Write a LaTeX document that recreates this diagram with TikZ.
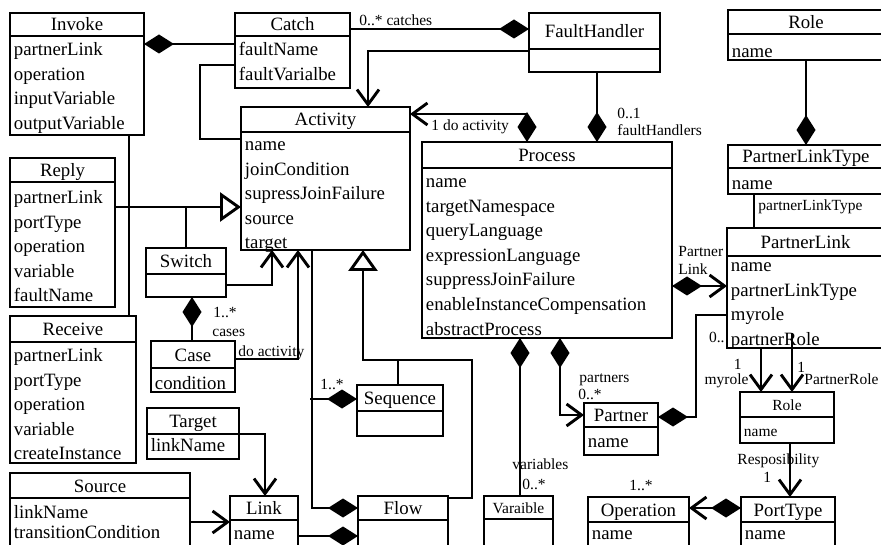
\documentclass[tikz,border=0pt]{standalone}
\usepackage{fontspec}
\setmainfont{Liberation Serif}
\usetikzlibrary{arrows.meta, positioning}

\tikzset{
  comptip/.tip={Diamond[length=30pt,width=19pt]},
  navtip/.tip={Straight Barb[length=15pt,width=22pt]},
  gentip/.tip={Triangle[length=21pt,width=29pt,fill=white]},
  box/.style={draw, line width=2.9pt, outer sep=0pt, inner sep=0pt},
  head/.style={box, anchor=north west, font=\fontsize{18.8}{22}\selectfont, text height=13pt, text depth=0pt},
  smallhead/.style={head, font=\fontsize{15.5}{18}\selectfont, text height=11pt},
  attr/.style={anchor=north west, text width=220pt, align=left, text height=13pt,
    inner xsep=2.5pt, inner ysep=5pt, font=\fontsize{18.8}{24.6}\selectfont},
  smallattr/.style={attr, text height=11pt, font=\fontsize{15.5}{18}\selectfont},
  lbl/.style={anchor=base west, inner sep=0pt, font=\fontsize{15.5}{17}\selectfont},
  comp/.style={arrows={comptip-}},
  nav/.style={arrows={-navtip}},
  compnav/.style={arrows={comptip-navtip}},
  gen/.style={arrows={-gentip}},
}

\begin{document}
\begin{tikzpicture}[x=1pt, y=-1pt, line width=2.9pt]
\useasboundingbox (0,0) rectangle (881,545);
\clip (0,0) rectangle (881,545);

% left column
\node[head, minimum width=134pt, minimum height=23pt] (invoke) at (10,13) {Invoke};
\node[box, minimum width=134pt, minimum height=99pt, below=0pt of invoke] (invoke-b) {};
\node[attr] (invoke-a) at (invoke-b.north west) {partnerLink\\operation\\inputVariable\\outputVariable};

\node[head, minimum width=105pt, minimum height=24pt] (reply) at (10,158) {Reply};
\node[box, minimum width=105pt, minimum height=125pt, below=0pt of reply] (reply-b) {};
\node[attr, yshift=-2pt] (reply-a) at (reply-b.north west) {partnerLink\\portType\\operation\\variable\\faultName};

\node[head, minimum width=126pt, minimum height=26pt] (receive) at (10,316) {Receive};
\node[box, minimum width=126pt, minimum height=121pt, below=0pt of receive] (receive-b) {};
\node[attr] (receive-a) at (receive-b.north west) {partnerLink\\portType\\operation\\variable\\createInstance};

\node[head, minimum width=180pt, minimum height=25pt] (source) at (10,473) {Source};
\node[box, minimum width=180pt, minimum height=80pt, below=0pt of source] (source-b) {};
\node[attr, yshift=-1pt, font=\fontsize{18.8}{20.5}\selectfont] (source-a) at (source-b.north west) {linkName\\transitionCondition};

% activities
\node[head, minimum width=115pt, minimum height=23pt] (catch) at (235,13) {Catch};
\node[box, minimum width=115pt, minimum height=52pt, below=0pt of catch] (catch-b) {};
\node[attr] (catch-a) at (catch-b.north west) {faultName\\faultVarialbe};

\node[head, minimum width=131pt, minimum height=36pt] (faulthandler) at (529,13) {FaultHandler};
\node[box, minimum width=131pt, minimum height=23pt, below=0pt of faulthandler] (faulthandler-b) {};

\node[head, minimum width=169pt, minimum height=25pt] (activity) at (241,107) {Activity};
\node[box, minimum width=169pt, minimum height=118pt, below=0pt of activity] (activity-b) {};
\node[attr, yshift=1pt] (activity-a) at (activity-b.north west) {name\\joinCondition\\supressJoinFailure\\source\\target};

\node[head, minimum width=80pt, minimum height=26pt] (switch) at (146,248) {Switch};
\node[box, minimum width=80pt, minimum height=23pt, below=0pt of switch] (switch-b) {};

\node[head, minimum width=84pt, minimum height=27pt] (case) at (151,341) {Case};
\node[box, minimum width=84pt, minimum height=24pt, below=0pt of case] (case-b) {};
\node[attr, yshift=-2pt] (case-a) at (case-b.north west) {condition};

\node[head, minimum width=92pt, minimum height=26pt] (target) at (147,408) {Target};
\node[box, minimum width=92pt, minimum height=25pt, below=0pt of target] (target-b) {};
\node[attr, yshift=2pt] (target-a) at (target-b.north west) {linkName};

\node[head, minimum width=86pt, minimum height=26pt] (sequence) at (357,385) {Sequence};
\node[box, minimum width=86pt, minimum height=25pt, below=0pt of sequence] (sequence-b) {};

\node[head, minimum width=68pt, minimum height=24pt] (link) at (230,496) {Link};
\node[box, minimum width=68pt, minimum height=45pt, below=0pt of link] (link-b) {};
\node[attr] (link-a) at (link-b.north west) {name};

\node[head, minimum width=90pt, minimum height=24pt] (flow) at (358,496) {Flow};
\node[box, minimum width=90pt, minimum height=45pt, below=0pt of flow] (flow-b) {};

% process side
\node[head, minimum width=250pt, minimum height=26pt] (process) at (422,142) {Process};
\node[box, minimum width=250pt, minimum height=170pt, below=0pt of process] (process-b) {};
\node[attr] (process-a) at (process-b.north west) {name\\targetNamespace\\queryLanguage\\expressionLanguage\\suppressJoinFailure\\enableInstanceCompensation\\abstractProcess};

\node[smallhead, minimum width=69pt, minimum height=23pt] (varaible) at (484,496) {Varaible};
\node[box, minimum width=69pt, minimum height=45pt, below=0pt of varaible] (varaible-b) {};

\node[head, minimum width=74pt, minimum height=24pt] (partner) at (584,403) {Partner};
\node[box, minimum width=74pt, minimum height=28pt, below=0pt of partner] (partner-b) {};
\node[attr, yshift=-1pt] (partner-a) at (partner-b.north west) {name};

\node[head, minimum width=101pt, minimum height=25pt] (operation) at (588,497) {Operation};
\node[box, minimum width=101pt, minimum height=45pt, below=0pt of operation] (operation-b) {};
\node[attr, yshift=2pt] (operation-a) at (operation-b.north west) {name};

\node[head, minimum width=94pt, minimum height=25pt] (porttype) at (741,497) {PortType};
\node[box, minimum width=94pt, minimum height=45pt, below=0pt of porttype] (porttype-b) {};
\node[attr, yshift=2pt] (porttype-a) at (porttype-b.north west) {name};

\node[smallhead, minimum width=94pt, minimum height=25pt] (rolep) at (740,392) {Role};
\node[box, minimum width=94pt, minimum height=26pt, below=0pt of rolep] (rolep-b) {};
\node[smallattr, yshift=-2pt] (rolep-a) at (rolep-b.north west) {name};

\node[head, minimum width=156pt, minimum height=24pt] (role) at (728,10) {Role};
\node[box, minimum width=156pt, minimum height=26pt, below=0pt of role] (role-b) {};
\node[attr, yshift=-4pt] (role-a) at (role-b.north west) {name};

\node[head, minimum width=156pt, minimum height=23pt] (plt) at (728,145) {PartnerLinkType};
\node[box, minimum width=156pt, minimum height=26pt, below=0pt of plt] (plt-b) {};
\node[attr, yshift=-2pt] (plt-a) at (plt-b.north west) {name};

\node[head, minimum width=157pt, minimum height=28pt] (plink) at (727,228) {PartnerLink};
\node[box, minimum width=157pt, minimum height=92pt, below=0pt of plink] (plink-b) {};
\node[attr, yshift=4pt] (plink-a) at (plink-b.north west) {name\\partnerLinkType\\myrole\\partnerRole};

% generalisations
\draw[gen] ([yshift=-25pt]reply-b.north east) -- ([yshift=-25pt]reply-b.north east -| activity-b.west);
\draw ([xshift=119pt]invoke-b.south west) -- ([xshift=119pt]invoke-b.south west |- receive.north);
\draw ([xshift=40pt]switch.north west) -- ++(0,-41);
\draw[gen] ([yshift=-2pt]flow.north east) -| ++(24,-138) -| ([xshift=122pt]activity-b.south west);
\draw ([xshift=41pt]sequence.north west) -- ++(0,-25);

% associations
\draw[comp] ([yshift=-8pt]invoke-b.north east) -- ([yshift=-8pt]invoke-b.north east -| catch-b.west);
\draw ([yshift=-29pt]catch-b.north west) -- ++(-35,0) |- ([yshift=-7pt]activity-b.north west);
\draw[comp] ([yshift=-16pt]faulthandler.north west) -- ([yshift=-16pt]faulthandler.north west -| catch.east);
\draw[nav] ([yshift=-2pt]faulthandler-b.north west) -| ([xshift=127pt]activity.north west);
\draw[comp] ([xshift=175pt]process.north west) -- ([xshift=175pt]process.north west |- faulthandler-b.south);
\draw[compnav] ([xshift=105pt]process.north west) |- ([yshift=-7pt]activity.north east);
\draw[nav] ([yshift=-11pt]switch-b.north east) -| ([xshift=31pt]activity-b.south west);
\draw[comp] ([xshift=46pt]switch-b.south west) -- ([xshift=46pt]switch-b.south west |- case.north);
\draw[nav] ([yshift=-18pt]case.north east) -| ([xshift=57pt]activity-b.south west);
\draw[comp] ([yshift=-12pt]flow.north west) -| ([xshift=71pt]activity-b.south west);
\draw[comp] ([yshift=-14pt]sequence.north west) -- ++(-47,0);
\draw[nav] (target.south east) -| ([xshift=35pt]link.north west);
\draw[nav] ([yshift=-24pt]source-b.north east) -- ([yshift=-24pt]source-b.north east -| link-b.west);
\draw[comp] ([yshift=-16pt]flow-b.north west) -- ([yshift=-16pt]flow-b.north west -| link-b.east);
\draw[comp] ([xshift=98pt]process-b.south west) -- ([xshift=98pt]process-b.south west |- varaible.north);
\draw[compnav] ([xshift=138pt]process-b.south west) |- ([yshift=-12pt]partner.north west);
\draw[comp] ([yshift=-14pt]partner.north east) -- ++(38,0) |- ([yshift=-59pt]plink-b.north west);
\draw[compnav] ([yshift=-30pt]plink-b.north west -| process-b.east) -- ([yshift=-30pt]plink-b.north west);
\draw[comp] ([xshift=78pt]plt.north west) -- ([xshift=78pt]plt.north west |- role-b.south);
\draw ([xshift=26pt]plt-b.south west) -- ([xshift=26pt]plt-b.south west |- plink.north);
\draw[nav] ([xshift=34pt]plink-b.south west) -- ([xshift=34pt]plink-b.south west |- rolep.north);
\draw[nav] ([xshift=65pt,yshift=15pt]plink-b.south west) -- ([xshift=65pt]plink-b.south west |- rolep.north);
\draw[nav] ([xshift=50pt]rolep-b.south west) -- ([xshift=50pt]rolep-b.south west |- porttype.north);
\draw[compnav] ([yshift=-11pt]porttype.north west) -- ([yshift=-11pt]porttype.north west -| operation.east);

% role names and multiplicities
\node[lbl] (l-catches) at (358,26) {0..* catches};
\node[lbl] (l-doact) at (430,131) {1 do activity};
\node[lbl] (l-fh1) at (616,119) {0..1};
\node[lbl] (l-fh2) at (616,136) {faultHandlers};
\node[lbl] (l-plt) at (757,211) {partnerLinkType};
\node[lbl] (l-pl1) at (677,257) {Partner};
\node[lbl] (l-pl2) at (677,275) {Link};
\node[lbl, anchor=base east] (l-plm) at (726,343) {0..};
\node[lbl, anchor=base east] (l-my1) at (743,370) {1};
\node[lbl, anchor=base east] (l-my2) at (750,384) {myrole};
\node[lbl] (l-pr1) at (796,372) {1};
\node[lbl] (l-pr2) at (803,384) {PartnerRole};
\node[lbl] (l-resp1) at (736,464) {Resposibility};
\node[lbl] (l-resp2) at (762,482) {1};
\node[lbl] (l-ops) at (628,490) {1..*};
\node[lbl] (l-part1) at (578,382) {partners};
\node[lbl] (l-part2) at (577,399) {0..*};
\node[lbl] (l-var1) at (511,469) {variables};
\node[lbl] (l-var2) at (521,489) {0..*};
\node[lbl] (l-seq) at (319,389) {1..*};
\node[lbl] (l-case1) at (212,318) {1..*};
\node[lbl] (l-case2) at (211,337) {cases};
\node[lbl] (l-caseact) at (237,356) {do activity};
\end{tikzpicture}
\end{document}
